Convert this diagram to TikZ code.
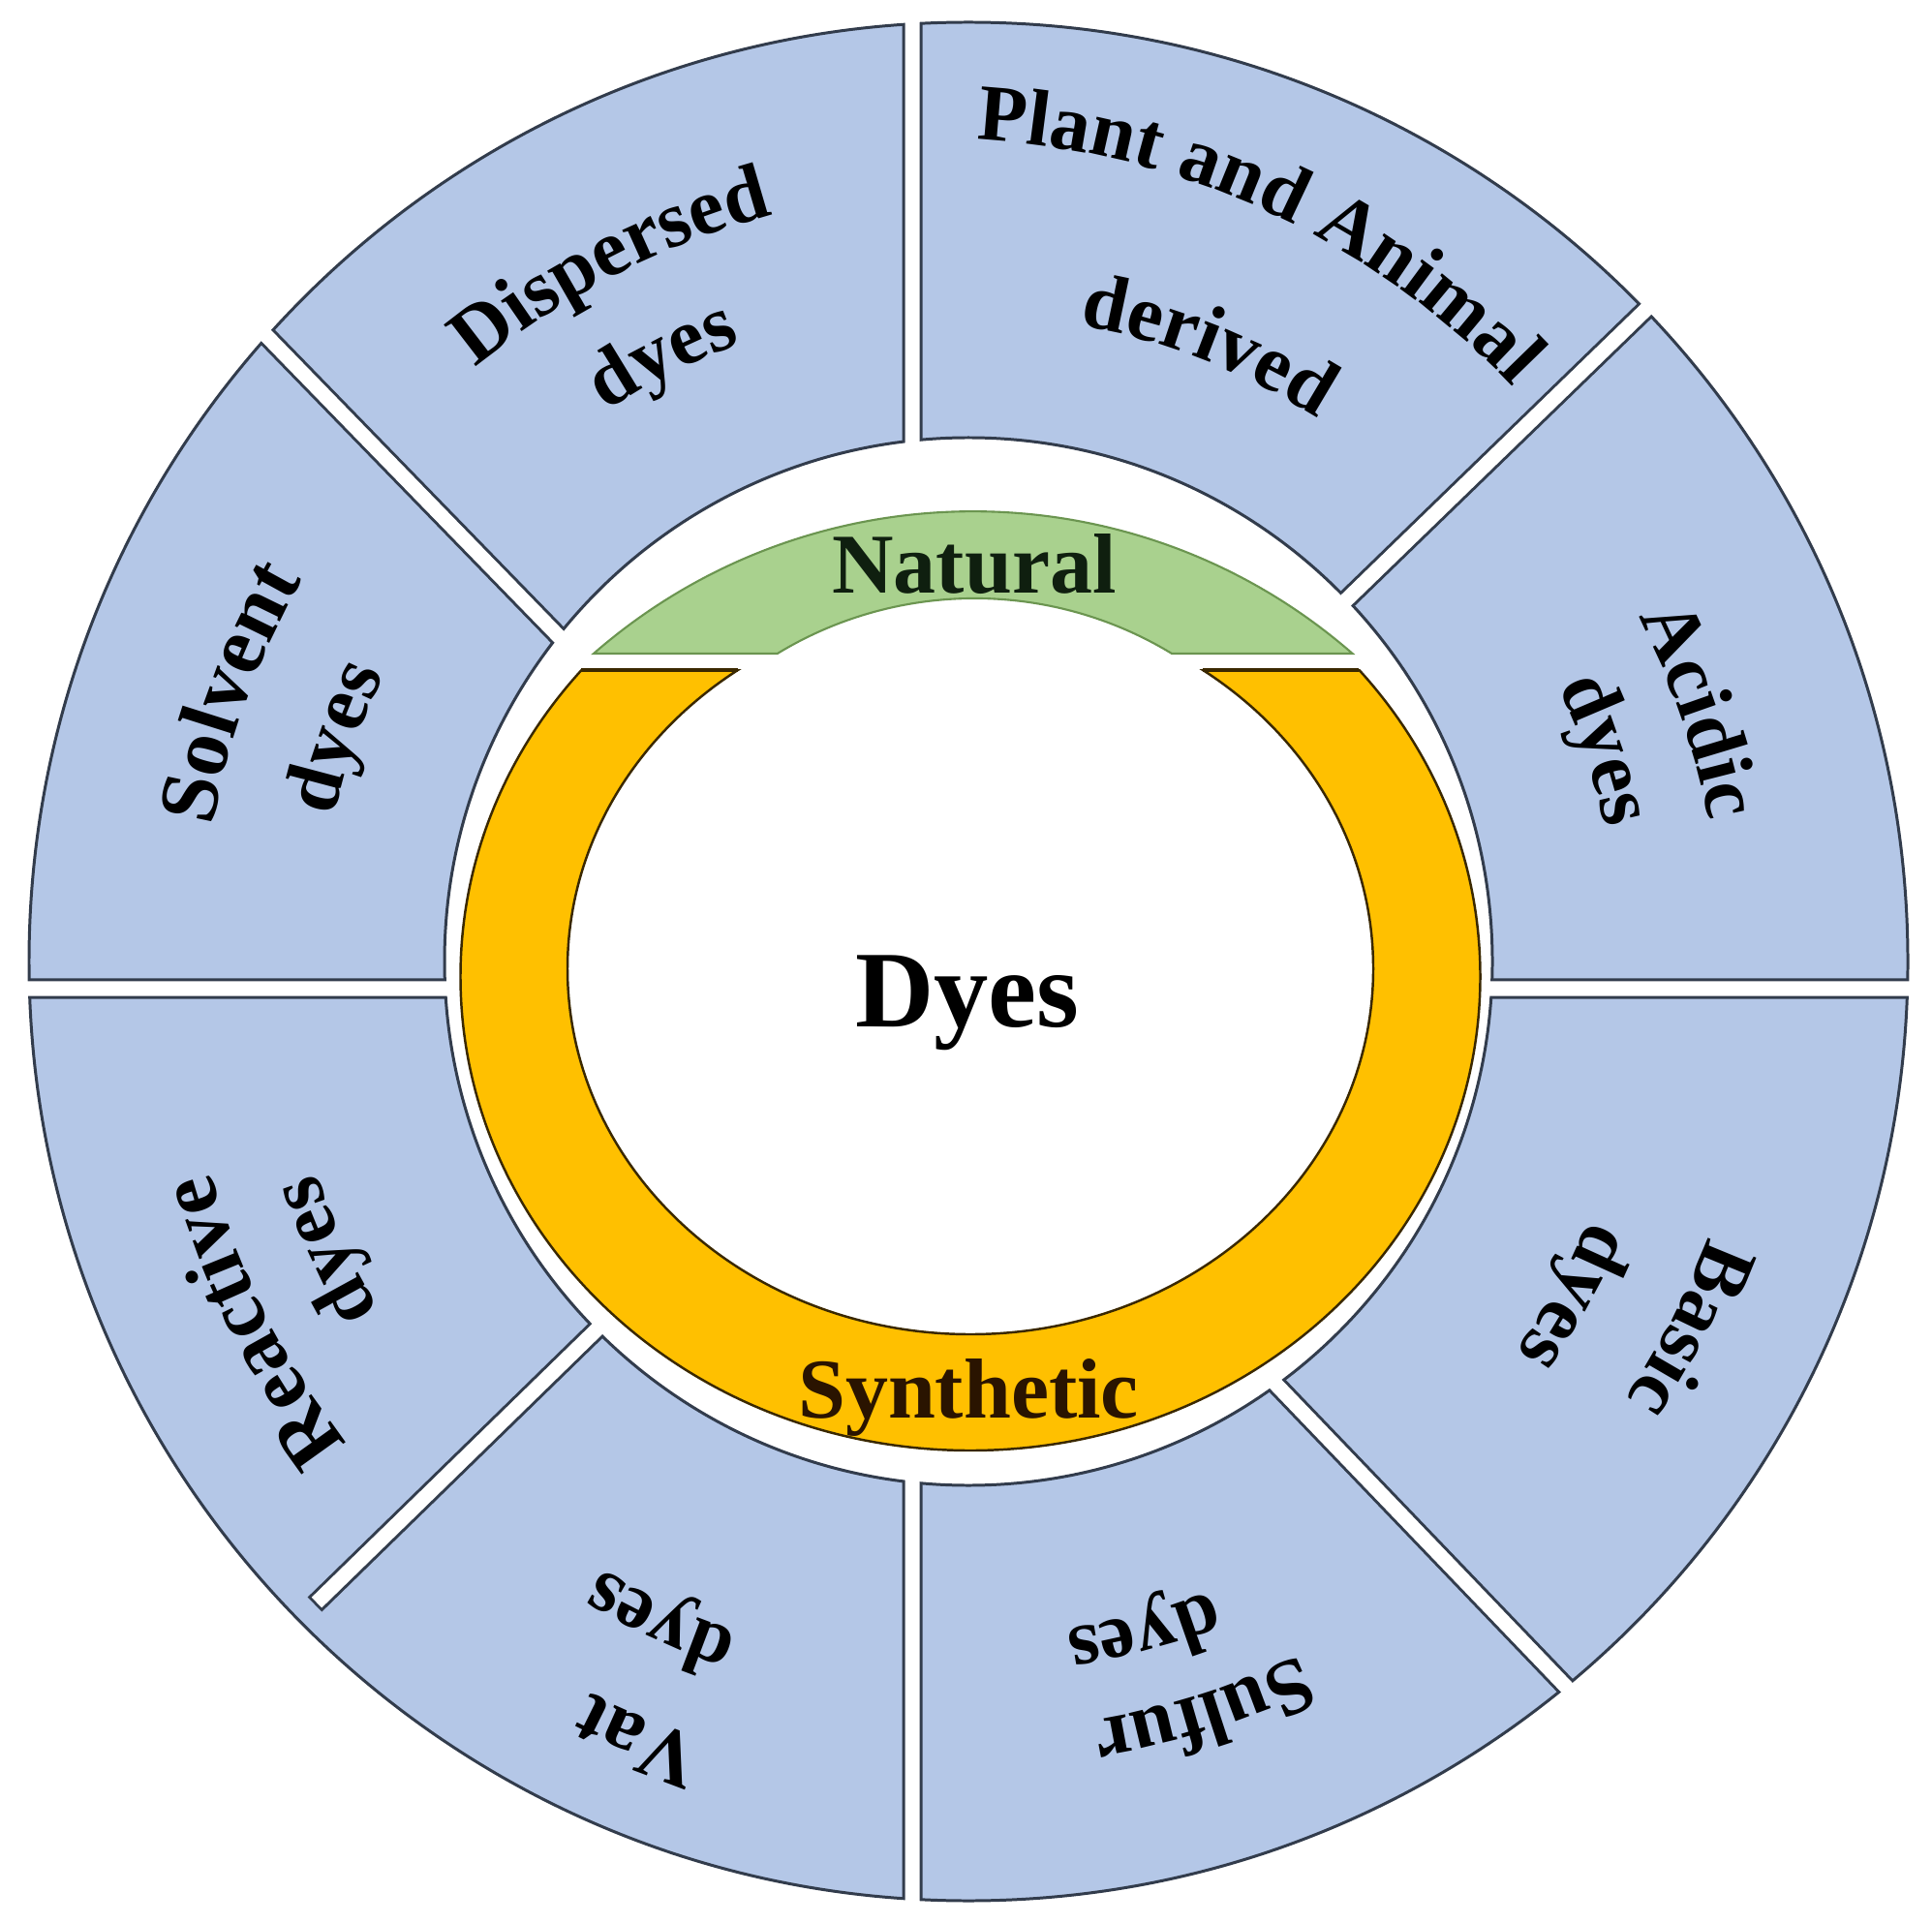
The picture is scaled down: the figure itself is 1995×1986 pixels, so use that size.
\documentclass[tikz,border=0pt]{standalone}
\usepackage{fontspec}
\setmainfont{Liberation Serif}
\usetikzlibrary{calc,decorations.text}
\definecolor{secfill}{HTML}{B4C7E7}
\definecolor{secline}{HTML}{323C4C}
\definecolor{natfill}{HTML}{A9D18E}
\definecolor{natline}{HTML}{6B9550}
\definecolor{synfill}{HTML}{FFC000}
\definecolor{synline}{HTML}{3A2800}
\definecolor{nattext}{HTML}{0F1F0F}
\definecolor{syntext}{HTML}{2A1400}
% #1 centre coordinate, #2 font size, #3 middle angle, #4 baseline radius, #5 text
\newcommand{\ringtext}[5]{\path[decorate,decoration={text along path,text align=center,text={|\bfseries\fontsize{#2}{#2}\selectfont|#5}}] ($(#1)+({#3+40}:#4)$) arc[start angle={#3+40},end angle={#3-40},radius=#4];}
\tikzset{
  gapdark/.style={draw=secline,line width=0.21cm},
  gapwhite/.style={draw=white,line width=0.15cm},
  secedge/.style={draw=secline,line width=0.85pt},
  title/.style={font=\bfseries\fontsize{25}{30}\selectfont,anchor=base,inner sep=0pt}
}
\begin{document}
\begin{tikzpicture}[x=0.01cm,y=0.01cm]
\useasboundingbox (0,0) rectangle (1995,-1986);
\coordinate (C) at (1000,-993);
\coordinate (P) at (965,-965);
% gap end points
\coordinate (vt1) at (942,-5);     \coordinate (vt2) at (942,-485);
\coordinate (vb1) at (942,-1500);  \coordinate (vb2) at (942,-1985);
\coordinate (hl1) at (5,-1021);    \coordinate (hl2) at (485,-1021);
\coordinate (hr1) at (1515,-1021); \coordinate (hr2) at (1990,-1021);
\coordinate (ur1) at (1364,-645);  \coordinate (ur2) at (1724,-296);
\coordinate (ul1) at (603,-684);   \coordinate (ul2) at (250,-321);
\coordinate (lr1) at (1292,-1403); \coordinate (lr2) at (1644,-1770);
\coordinate (ll1) at (644,-1346);  \coordinate (ll2) at (325,-1657);
\coordinate (ll3) at (327,-1655);
% outer ring of sectors
\fill[secfill,even odd rule] (C) circle[radius=970] (C) circle[radius=541];
\draw[secedge] (C) circle[radius=970] (C) circle[radius=541];
\begin{scope}[even odd rule]
  \clip (C) circle[radius=970] (C) circle[radius=541];
  \draw[gapdark] (vt1) -- (vt2) (vb1) -- (vb2) (hl1) -- (hl2) (hr1) -- (hr2)
        (ur1) -- (ur2) (ul1) -- (ul2) (lr1) -- (lr2) (ll1) -- (ll2);
\end{scope}
\draw[gapwhite] (vt1) -- (vt2) (vb1) -- (vb2) (hl1) -- (hl2) (hr1) -- (hr2)
      (ur1) -- (ur2) (ul1) -- (ul2) (lr1) -- (lr2) (ll1) -- (ll3);
% synthetic ring
\begin{scope}
  \clip (0,-692) rectangle (1995,-1986);
  \fill[synfill,even odd rule] (1002,-1008.6) ellipse[x radius=526.5,y radius=489.4]
       (1002,-1000.4) ellipse[x radius=416,y radius=377.6];
  \draw[synline,line width=0.7pt] (1002,-1008.6) ellipse[x radius=526.5,y radius=489.4]
       (1002,-1000.4) ellipse[x radius=416,y radius=377.6];
\end{scope}
\draw[synline,line width=0.9pt] (600,-692) -- (762,-692) (1242,-692) -- (1403,-692);
% natural cap
\filldraw[fill=natfill,draw=natline,line width=0.6pt] (613,-675)
   arc[start angle=131.1,end angle=48.9,radius=596] -- (1210,-675)
   arc[start angle=58.7,end angle=121.3,radius=392] -- cycle;
% titles
\node[title,text=nattext] (natural) at (1006,-613) {Natural};
\node[title,text=syntext] (synthetic) at (1000,-1464) {Synthetic};
\node[font=\bfseries\fontsize{32}{38}\selectfont,anchor=base,inner sep=0pt] (dyes) at (999,-1060) {Dyes};
% sector labels
\ringtext{P}{23.5}{65.2}{822}{Plant and Animal}
\ringtext{C}{23.5}{68.7}{667}{derived}
\ringtext{C}{23.5}{117.2}{797}{Dispersed}
\ringtext{C}{23.5}{116.8}{680}{dyes}
\ringtext{C}{24.5}{160}{793}{Solvent}
\ringtext{C}{23.5}{160.5}{672}{dyes}
\ringtext{C}{23.5}{19}{778}{Acidic}
\ringtext{C}{23.5}{18.4}{672}{dyes}
\ringtext{C}{23.5}{-27}{815}{Basic}
\ringtext{C}{23.5}{-29}{694}{dyes}
\ringtext{C}{23.5}{-72.6}{794}{Sulfur}
\ringtext{C}{23.5}{-75.3}{697}{dyes}
\ringtext{C}{23.5}{-113}{850}{Vat}
\ringtext{C}{23.5}{-115}{733}{dyes}
\ringtext{C}{24.5}{-153.3}{812}{Reactive}
\ringtext{C}{23.5}{-155.7}{707}{dyes}
\end{tikzpicture}
\end{document}
